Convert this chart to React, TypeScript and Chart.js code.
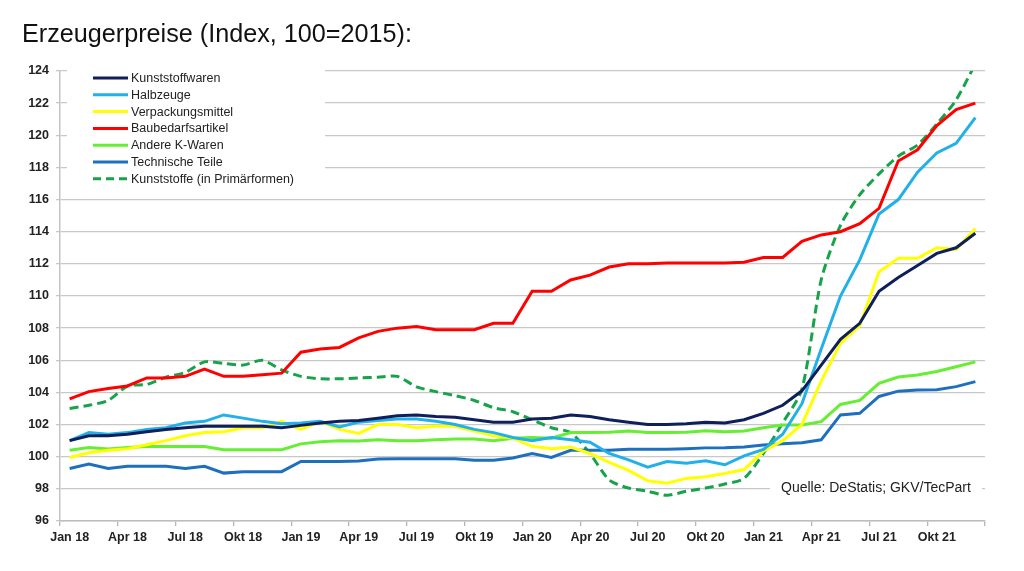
import React, { useEffect, useRef } from "react";
import { Chart, registerables } from "chart.js";

Chart.register(...registerables);

const monthNames = ["Jan", "Feb", "Mrz", "Apr", "Mai", "Jun", "Jul", "Aug", "Sep", "Okt", "Nov", "Dez"];
const years = ["18", "19", "20", "21"];
const categories: string[] = years.flatMap((y) => monthNames.map((m) => `${m} ${y}`));

const yTicksMin = 96;
const yTicksMax = 124;
const yTickStep = 2;

const kunststoffwaren = [
  101.0, 101.3, 101.3, 101.4, 101.55, 101.7, 101.8, 101.9, 101.9, 101.9, 101.9, 101.8,
  101.95, 102.1, 102.2, 102.25, 102.4, 102.55, 102.6, 102.5, 102.45, 102.3, 102.15, 102.15,
  102.35, 102.4, 102.6, 102.5, 102.3, 102.15, 102.0, 102.0, 102.05, 102.15, 102.1, 102.3,
  102.7, 103.2, 104.1, 105.7, 107.3, 108.3, 110.3, 111.15, 111.9, 112.65, 113.0, 113.9,
];
const halbzeuge = [
  101.0, 101.5, 101.4, 101.5, 101.7, 101.8, 102.1, 102.2, 102.6, 102.4, 102.2, 102.05,
  102.1, 102.2, 101.85, 102.15, 102.25, 102.35, 102.35, 102.2, 102.0, 101.7, 101.5, 101.2,
  101.0, 101.2, 101.05, 100.9, 100.2, 99.8, 99.35, 99.7, 99.6, 99.75, 99.5, 100.05,
  100.45, 101.4, 103.3, 106.7, 110.0, 112.25, 115.1, 116.0, 117.7, 118.9, 119.5, 121.1,
];
const verpackungsmittel = [
  99.95, 100.25, 100.4, 100.5, 100.75, 101.0, 101.3, 101.5, 101.55, 101.8, 101.8, 102.2,
  101.7, 102.2, 101.7, 101.45, 102.0, 102.0, 101.8, 101.9, 101.9, 101.6, 101.3, 101.15,
  100.65, 100.5, 100.6, 100.2, 99.65, 99.15, 98.5, 98.35, 98.65, 98.75, 98.95, 99.2,
  100.35, 101.0, 102.0, 104.7, 107.05, 108.15, 111.5, 112.35, 112.35, 113.0, 112.9, 114.2,
];
const baubedarfsartikel = [
  103.6, 104.05, 104.25, 104.4, 104.9, 104.9, 105.0, 105.45, 105.0, 105.0, 105.1, 105.2,
  106.5, 106.7, 106.8, 107.4, 107.8, 108.0, 108.1, 107.9, 107.9, 107.9, 108.3, 108.3,
  110.3, 110.3, 111.0, 111.3, 111.8, 112.0, 112.0, 112.05, 112.05, 112.05, 112.05, 112.1,
  112.4, 112.4, 113.4, 113.8, 114.0, 114.5, 115.45, 118.4, 119.1, 120.6, 121.6, 122.0,
];
const andereKWaren = [
  100.4, 100.58, 100.48, 100.58, 100.63, 100.63, 100.63, 100.63, 100.43, 100.43, 100.43, 100.43,
  100.8, 100.93, 101.0, 100.98, 101.05, 101.0, 101.0, 101.05, 101.1, 101.1, 101.0, 101.15,
  101.2, 101.15, 101.5, 101.5, 101.52, 101.6, 101.5, 101.5, 101.52, 101.62, 101.56, 101.6,
  101.8, 101.97, 101.97, 102.18, 103.25, 103.5, 104.56, 104.96, 105.08, 105.3, 105.6, 105.9,
];
const technischeTeile = [
  99.27, 99.54, 99.27, 99.4, 99.4, 99.4, 99.27, 99.4, 98.98, 99.07, 99.07, 99.07,
  99.7, 99.7, 99.7, 99.73, 99.86, 99.88, 99.88, 99.88, 99.88, 99.78, 99.78, 99.92,
  100.2, 99.95, 100.4, 100.4, 100.4, 100.47, 100.47, 100.47, 100.5, 100.55, 100.56, 100.6,
  100.73, 100.8, 100.87, 101.05, 102.6, 102.7, 103.75, 104.08, 104.15, 104.17, 104.36, 104.67,
];
const kunststoffePrimaer = [
  103.0, 103.2, 103.5, 104.4, 104.5, 104.95, 105.25, 105.9, 105.8, 105.7, 106.0, 105.4,
  105.0, 104.85, 104.85, 104.9, 104.95, 105.0, 104.35, 104.05, 103.8, 103.5, 103.05, 102.8,
  102.3, 101.8, 101.5, 100.2, 98.55, 98.05, 97.85, 97.6, 97.85, 98.05, 98.3, 98.65,
  100.2, 102.1, 104.2, 111.0, 114.4, 116.3, 117.6, 118.7, 119.4, 120.7, 122.2, 124.45,
];

const seriesNames = [
  "Kunststoffwaren",
  "Halbzeuge",
  "Verpackungsmittel",
  "Baubedarfsartikel",
  "Andere K-Waren",
  "Technische Teile",
  "Kunststoffe (in Primärformen)",
];
const seriesValues = [
  kunststoffwaren,
  halbzeuge,
  verpackungsmittel,
  baubedarfsartikel,
  andereKWaren,
  technischeTeile,
  kunststoffePrimaer,
];
const seriesColors = ["#0f1f5a", "#22b0e8", "#ffff00", "#ff0000", "#66ee33", "#1e6fbe", "#17a34a"];
const seriesDashed = [false, false, false, false, false, false, true];

const titleText = "Erzeugerpreise (Index, 100=2015):";
const sourceText = "Quelle: DeStatis; GKV/TecPart";

const FONT = "'Liberation Sans', Arial, Helvetica, sans-serif";

const overlayPlugin = {
  id: "overlay",
  afterDraw(chart: any) {
    const ctx = chart.ctx as CanvasRenderingContext2D;
    ctx.save();
    // title
    ctx.fillStyle = "#111";
    ctx.font = `25.2px ${FONT}`;
    ctx.textAlign = "left";
    ctx.textBaseline = "alphabetic";
    ctx.fillText(titleText, 22, 42);

    // legend box
    ctx.fillStyle = "#ffffff";
    ctx.fillRect(67, 62, 258, 126);
    const rowY0 = 78;
    const rowStep = 16.8;
    ctx.font = `12.5px ${FONT}`;
    ctx.textBaseline = "middle";
    seriesNames.forEach((name, i) => {
      const y = rowY0 + i * rowStep;
      ctx.beginPath();
      ctx.strokeStyle = seriesColors[i];
      ctx.lineWidth = 3;
      ctx.setLineDash(seriesDashed[i] ? [8, 5] : []);
      ctx.moveTo(93, y);
      ctx.lineTo(128, y);
      ctx.stroke();
      ctx.setLineDash([]);
      ctx.fillStyle = "#222";
      ctx.fillText(name, 131, y + 0.5);
    });

    // source
    ctx.fillStyle = "#ffffff";
    ctx.fillRect(770, 478, 212, 20);
    ctx.fillStyle = "#222";
    ctx.font = `14px ${FONT}`;
    ctx.textBaseline = "middle";
    ctx.fillText(sourceText, 781, 488);
    ctx.restore();
  },
};

export default function App() {
  const canvasRef = useRef<HTMLCanvasElement | null>(null);

  useEffect(() => {
    if (!canvasRef.current) return;
    const chart = new Chart(canvasRef.current, {
      type: "line",
      data: {
        labels: categories,
        datasets: seriesNames.map((name, i) => ({
          label: name,
          data: seriesValues[i],
          borderColor: seriesColors[i],
          backgroundColor: seriesColors[i],
          borderWidth: 3,
          borderDash: seriesDashed[i] ? [9, 5] : [],
          pointRadius: 0,
          pointHoverRadius: 0,
          tension: seriesDashed[i] ? 0.25 : 0,
          fill: false,
        })),
      },
      options: {
        responsive: false,
        animation: false,
        events: [],
        layout: { padding: { top: 71, right: 39, left: 0, bottom: 0 } },
        plugins: {
          legend: { display: false },
          tooltip: { enabled: false },
          title: { display: false },
        },
        scales: {
          x: {
            type: "category",
            offset: true,
            grid: {
              offset: true,
              drawOnChartArea: false,
              drawTicks: true,
              tickLength: 5,
              lineWidth: 1.3,
              color: (ctx: any) =>
                ctx.index === undefined || ctx.index % 3 === 0 ? "#b5b5b5" : "rgba(0,0,0,0)",
            },
            border: { color: "#bdbdbd", width: 1.5 },
            ticks: {
              autoSkip: false,
              maxRotation: 0,
              minRotation: 0,
              padding: 4,
              color: "#222",
              font: { family: FONT, size: 12.5, weight: "bold" },
              callback: (_v: any, i: number) => (i % 3 === 0 ? categories[i] : ""),
            },
            afterFit: (s: any) => {
              s.height = 50;
            },
          },
          y: {
            min: yTicksMin,
            max: yTicksMax,
            grid: {
              color: "#c8c8c8",
              lineWidth: 1.3,
              tickLength: 4,
            },
            border: { color: "#c4c4c4", width: 1.5 },
            ticks: {
              stepSize: yTickStep,
              padding: 7,
              color: "#222",
              font: { family: FONT, size: 12.5, weight: "bold" },
            },
            afterFit: (s: any) => {
              s.width = 60;
            },
          },
        },
      },
      plugins: [overlayPlugin],
    });
    return () => chart.destroy();
  }, []);

  return (
    <div style={{ position: "absolute", left: 0, top: 0, width: 1024, height: 571, background: "#fff" }}>
      <canvas ref={canvasRef} width={1024} height={571} style={{ display: "block" }} />
    </div>
  );
}
